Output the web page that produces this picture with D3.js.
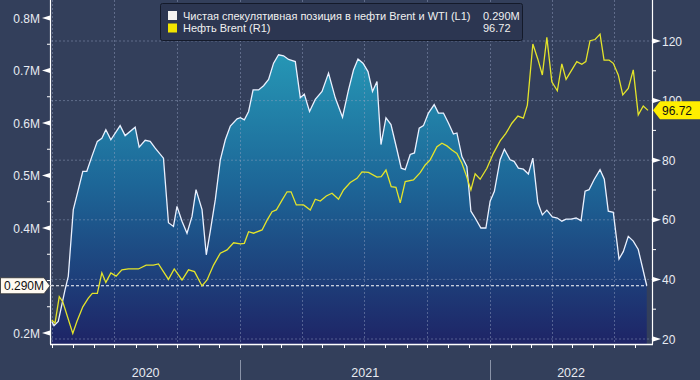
<!DOCTYPE html>
<html><head><meta charset="utf-8">
<script src="https://cdn.jsdelivr.net/npm/d3@7"></script>
<style>
html,body{margin:0;padding:0;background:#333f5b;}
svg{display:block;font-family:"Liberation Sans",Arial,sans-serif;}
</style></head>
<body>
<svg id="c" width="700" height="380"></svg>
<script>
// ---- data (dates as decimal years) ----
const netT = [2020.247,2020.256,2020.273,2020.300,2020.313,2020.333,2020.353,2020.371,2020.387,2020.407,2020.429,2020.447,2020.463,2020.483,2020.520,2020.540,2020.580,2020.596,2020.620,2020.640,2020.660,2020.693,2020.713,2020.733,2020.747,2020.767,2020.787,2020.807,2020.823,2020.847,2020.864,2020.880,2020.900,2020.920,2020.940,2020.960,2020.987,
2021.000,2021.016,2021.033,2021.051,2021.073,2021.093,2021.113,2021.133,2021.153,2021.173,2021.193,2021.220,2021.240,2021.256,2021.277,2021.300,2021.327,2021.353,2021.380,2021.409,2021.433,2021.453,2021.471,2021.491,2021.511,2021.529,2021.547,2021.563,2021.583,2021.603,2021.627,2021.644,2021.660,2021.680,2021.697,2021.716,2021.733,2021.753,2021.776,2021.793,2021.813,2021.833,2021.853,2021.867,2021.887,2021.907,2021.923,2021.940,2021.963,2021.983,
2022.000,2022.017,2022.040,2022.057,2022.080,2022.096,2022.113,2022.133,2022.153,2022.171,2022.191,2022.209,2022.227,2022.249,2022.269,2022.287,2022.304,2022.324,2022.344,2022.364,2022.380,2022.396,2022.416,2022.440,2022.457,2022.473,2022.493,2022.516,2022.533,2022.553,2022.573,2022.593,2022.627];
const netPosition = [0.222,0.214,0.222,0.282,0.308,0.435,0.473,0.508,0.508,0.536,0.565,0.571,0.587,0.568,0.595,0.576,0.592,0.554,0.567,0.565,0.552,0.533,0.410,0.403,0.441,0.413,0.390,0.422,0.473,0.435,0.349,0.394,0.454,0.530,0.568,0.594,0.608,
0.610,0.606,0.622,0.663,0.663,0.671,0.683,0.714,0.730,0.728,0.721,0.717,0.648,0.655,0.622,0.645,0.660,0.695,0.648,0.611,0.663,0.701,0.722,0.714,0.698,0.660,0.679,0.559,0.610,0.597,0.549,0.514,0.511,0.540,0.543,0.590,0.595,0.619,0.635,0.619,0.619,0.600,0.579,0.581,0.536,0.517,0.432,0.419,0.400,0.400,
0.451,0.470,0.530,0.550,0.530,0.527,0.514,0.512,0.503,0.533,0.448,0.425,0.434,0.421,0.419,0.413,0.417,0.417,0.419,0.414,0.470,0.473,0.492,0.511,0.493,0.432,0.430,0.341,0.355,0.384,0.375,0.359,0.290];

const brentT = [2020.247,2020.260,2020.277,2020.291,2020.331,2020.347,2020.371,2020.393,2020.409,2020.429,2020.447,2020.463,2020.483,2020.504,2020.527,2020.553,2020.593,2020.624,2020.653,2020.673,2020.713,2020.736,2020.767,2020.793,2020.817,2020.847,2020.867,2020.893,2020.920,2020.947,2020.973,
2021.000,2021.016,2021.033,2021.053,2021.087,2021.107,2021.127,2021.144,2021.167,2021.187,2021.203,2021.224,2021.253,2021.280,2021.300,2021.320,2021.344,2021.367,2021.393,2021.413,2021.440,2021.467,2021.487,2021.513,2021.547,2021.564,2021.583,2021.604,2021.623,2021.640,2021.660,2021.693,2021.720,2021.740,2021.760,2021.787,2021.807,2021.827,2021.847,2021.867,2021.887,2021.904,2021.923,2021.940,2021.960,2021.987,
2022.013,2022.040,2022.063,2022.087,2022.111,2022.133,2022.149,2022.171,2022.191,2022.209,2022.227,2022.247,2022.269,2022.287,2022.304,2022.327,2022.347,2022.367,2022.383,2022.400,2022.420,2022.440,2022.456,2022.476,2022.493,2022.513,2022.531,2022.553,2022.573,2022.593,2022.613,2022.632];
const brentPrice = [26.4,25.3,34.2,32.5,21.9,25.8,30.8,33.7,35.3,35.3,42.2,39.0,42.2,41.1,43.2,43.5,43.5,44.8,44.8,45.2,40.0,43.5,39.8,43.2,42.6,37.8,39.8,44.8,48.8,49.9,52.3,
51.9,52.1,56.0,55.5,56.6,59.9,62.7,63.3,66.6,69.4,69.4,65.0,65.0,63.3,66.9,66.3,68.0,68.9,66.9,70.0,72.5,73.9,76.1,75.9,74.3,74.5,76.7,71.1,70.9,65.7,72.8,73.4,75.8,78.4,80.1,84.5,85.7,84.8,83.4,82.3,79.0,75.0,70.0,75.4,73.6,77.3,
82.3,86.5,89.0,92.4,94.8,94.1,98.5,119.0,113.9,108.6,121.2,106.3,103.3,112.3,107.1,110.3,113.1,112.2,113.1,120.1,120.5,122.3,113.6,113.6,112.5,108.6,101.9,104.1,110.3,95.2,98.2,96.72];

const leftTicks = [0.2,0.4,0.5,0.6,0.7,0.8];
const leftTickLabels = ["0.2M","0.4M","0.5M","0.6M","0.7M","0.8M"];
const leftMinor = [0.25,0.3,0.35,0.45,0.55,0.65,0.75];
const rightTicks = [20,40,60,80,100,120];
const rightTickLabels = ["20","40","60","80","100","120"];
const rightMinor = [30,50,70,90,110];
const yearLabels = ["2020","2021","2022"];
const legendLabels = ["Чистая спекулятивная позиция в нефти Brent и WTI (L1)","Нефть Brent (R1)"];
const legendValues = ["0.290M","96.72"];
const lastNet = 0.290, lastBrent = 96.72;

// ---- helpers ----
function dec2date(t){const y=Math.floor(t);const a=Date.UTC(y,0,1),b=Date.UTC(y+1,0,1);return new Date(a+(t-y)*(b-a));}

const L=51,R=652,T=0,B=344;
const svg=d3.select("#c");
const x=d3.scaleUtc().domain([dec2date(2020.244),dec2date(2022.648)]).range([L,R]);
const yL=d3.scaleLinear().domain([0.2,0.8]).range([333,18]);
const yR=d3.scaleLinear().domain([20,120]).range([339,41]);

const netData=netT.map((t,i)=>({d:dec2date(t),v:netPosition[i]}));
const brentData=brentT.map((t,i)=>({d:dec2date(t),v:brentPrice[i]}));

svg.append("rect").attr("width",700).attr("height",380).attr("fill","#333f5b");

const defs=svg.append("defs");
const g=defs.append("linearGradient").attr("id","ag").attr("gradientUnits","userSpaceOnUse")
  .attr("x1",0).attr("x2",0).attr("y1",50).attr("y2",B);
g.append("stop").attr("offset","0%").attr("stop-color","#2698b6");
g.append("stop").attr("offset","45%").attr("stop-color","#1d6798");
g.append("stop").attr("offset","100%").attr("stop-color","#1e2466");
defs.append("clipPath").attr("id","pc").append("rect").attr("x",L).attr("y",T).attr("width",R-L).attr("height",B-T);

const plot=svg.append("g").attr("clip-path","url(#pc)");

// area
plot.append("path").datum(netData)
  .attr("d",d3.area().x(d=>x(d.d)).y0(B).y1(d=>yL(d.v)))
  .attr("fill","url(#ag)");

// grid
const gridC="rgba(150,165,195,0.45)";
plot.selectAll(".hg").data(rightTicks).join("line")
  .attr("x1",L).attr("x2",R).attr("y1",d=>yR(d)).attr("y2",d=>yR(d))
  .attr("stroke",gridC).attr("stroke-width",1).attr("stroke-dasharray","2,2");
plot.selectAll(".vg").data(x.ticks(d3.utcMonth.every(3))).join("line")
  .attr("x1",d=>Math.round(x(d))+0.5).attr("x2",d=>Math.round(x(d))+0.5).attr("y1",T).attr("y2",B)
  .attr("stroke",gridC).attr("stroke-width",1).attr("stroke-dasharray","2,2");

// last value dashed line
plot.append("line").attr("x1",L).attr("x2",x(netData[netData.length-1].d))
  .attr("y1",yL(lastNet)).attr("y2",yL(lastNet))
  .attr("stroke","#ffffff").attr("stroke-width",1).attr("stroke-dasharray","3,2");

// lines
plot.append("path").datum(netData)
  .attr("d",d3.line().x(d=>x(d.d)).y(d=>yL(d.v)))
  .attr("fill","none").attr("stroke","#eaf1ff").attr("stroke-width",1.3);
plot.append("path").datum(brentData)
  .attr("d",d3.line().x(d=>x(d.d)).y(d=>yR(d.v)))
  .attr("fill","none").attr("stroke","#e4e42a").attr("stroke-width",1.3);

// axes lines
svg.append("line").attr("x1",L-0.5).attr("x2",L-0.5).attr("y1",0).attr("y2",B).attr("stroke","#fff").attr("stroke-width",1.2);
svg.append("line").attr("x1",R+0.5).attr("x2",R+0.5).attr("y1",0).attr("y2",B).attr("stroke","#fff").attr("stroke-width",1.2);
svg.append("line").attr("x1",L-1).attr("x2",R+1).attr("y1",B+0.5).attr("y2",B+0.5).attr("stroke","#fff").attr("stroke-width",1.5);

// left axis
const lab="#e8ebf2";
svg.selectAll(".lm").data(leftMinor).join("line")
  .attr("x1",L-4).attr("x2",L).attr("y1",d=>yL(d)).attr("y2",d=>yL(d)).attr("stroke","#fff");
svg.selectAll(".lt").data(leftTicks).join("path")
  .attr("d",d=>`M${L-9},${yL(d)} L${L-1},${yL(d)-2.5} L${L-1},${yL(d)+2.5}Z`).attr("fill","#fff");
svg.selectAll(".ll").data(leftTicks).join("text")
  .attr("x",L-11).attr("y",d=>yL(d)+4.5).attr("text-anchor","end")
  .attr("font-size",12).attr("fill",lab).text((d,i)=>leftTickLabels[i]);

// right axis
svg.selectAll(".rm").data(rightMinor).join("line")
  .attr("x1",R).attr("x2",R+4).attr("y1",d=>yR(d)).attr("y2",d=>yR(d)).attr("stroke","#fff");
svg.selectAll(".rt").data(rightTicks).join("path")
  .attr("d",d=>`M${R+1},${yR(d)-2.5} L${R+9},${yR(d)} L${R+1},${yR(d)+2.5}Z`).attr("fill","#fff");
svg.selectAll(".rl").data(rightTicks).join("text")
  .attr("x",R+10).attr("y",d=>yR(d)+4.5).attr("text-anchor","start")
  .attr("font-size",12).attr("fill",lab).text((d,i)=>rightTickLabels[i]);

// bottom axis ticks
svg.selectAll(".bt").data(x.ticks(d3.utcMonth.every(1))).join("line")
  .attr("x1",d=>Math.round(x(d))+0.5).attr("x2",d=>Math.round(x(d))+0.5).attr("y1",B).attr("y2",B+4)
  .attr("stroke","#fff").attr("stroke-width",1);
const years=x.ticks(d3.utcYear.every(1));
svg.selectAll(".ys").data(years).join("line")
  .attr("x1",d=>Math.round(x(d))+0.5).attr("x2",d=>Math.round(x(d))+0.5).attr("y1",360).attr("y2",380)
  .attr("stroke","#8a93a8").attr("stroke-width",1);
const bounds=[L,...years.map(d=>x(d)),R];
svg.selectAll(".yl").data(yearLabels).join("text")
  .attr("x",(d,i)=>(bounds[i]+bounds[i+1])/2).attr("y",377).attr("text-anchor","middle")
  .attr("font-size",12.5).attr("fill",lab).text(d=>d);

// last value labels
const yl=yL(lastNet);
svg.append("path").attr("d",`M0.5,${yl-8} L44,${yl-8} L50,${yl} L44,${yl+8} L0.5,${yl+8}Z`)
  .attr("fill","#fffaf2").attr("stroke","#333").attr("stroke-width",0.8);
svg.append("text").attr("x",4).attr("y",yl+4.5).attr("font-size",12).attr("fill","#111").text(legendValues[0]);
const yr=yR(lastBrent);
svg.append("path").attr("d",`M${R+1},${yr} L${R+8},${yr-9} L700,${yr-9} L700,${yr+9} L${R+8},${yr+9}Z`)
  .attr("fill","#ffee00");
svg.append("text").attr("x",R+10).attr("y",yr+4.5).attr("font-size",12).attr("fill","#111").text(legendValues[1]);

// legend
const lg=svg.append("g");
lg.append("rect").attr("x",160.5).attr("y",3.5).attr("width",362).attr("height",37).attr("rx",2)
  .attr("fill","#2c3651").attr("stroke","#141a2a").attr("stroke-width",1);
const sw=["#f4f2f0","#f2e400"];
legendLabels.forEach((t,i)=>{
  const yy=11+i*12.5;
  lg.append("rect").attr("x",168).attr("y",yy).attr("width",9).attr("height",9).attr("fill",sw[i]);
  lg.append("text").attr("x",183).attr("y",yy+8.5).attr("font-size",11).attr("fill","#f0f0f0").text(t);
  lg.append("text").attr("x",483).attr("y",yy+8.5).attr("font-size",11).attr("fill","#f0f0f0").text(legendValues[i]);
});
</script>
</body></html>
